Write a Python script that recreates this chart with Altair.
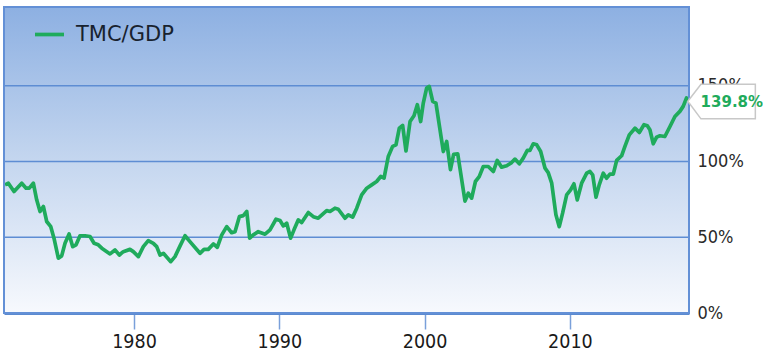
import altair as alt
import pandas as pd

years = [1971.12, 1971.35, 1971.74, 1972.27, 1972.57, 1972.79, 1973.07, 1973.30, 1973.53, 1973.76,
         1973.99, 1974.27, 1974.49, 1974.79, 1975.02, 1975.25, 1975.53, 1975.78, 1976.01, 1976.28,
         1976.63, 1976.97, 1977.25, 1977.54, 1977.78, 1978.35, 1978.69, 1978.99, 1979.26, 1979.72,
         1979.95, 1980.30, 1980.64, 1980.98, 1981.33, 1981.56, 1981.79, 1982.02, 1982.53, 1982.82,
         1983.17, 1983.51, 1983.85, 1984.54, 1984.82, 1985.11, 1985.46, 1985.73, 1986.04, 1986.38,
         1986.72, 1986.95, 1987.25, 1987.52, 1987.76, 1987.96, 1988.21, 1988.55, 1989.02, 1989.36,
         1989.77, 1990.05, 1990.28, 1990.51, 1990.78, 1991.01, 1991.31, 1991.54, 1992.00, 1992.34,
         1992.68, 1993.26, 1993.49, 1993.83, 1994.06, 1994.52, 1994.75, 1995.05, 1995.33, 1995.67,
         1996.02, 1996.36, 1996.70, 1996.98, 1997.21, 1997.50, 1997.80, 1998.03, 1998.26, 1998.49,
         1998.72, 1999.00, 1999.27, 1999.50, 1999.73, 1999.91, 2000.14, 2000.32, 2000.56, 2000.78,
         2001.29, 2001.52, 2001.78, 2002.00, 2002.28, 2002.78, 2003.01, 2003.24, 2003.50, 2003.76,
         2004.04, 2004.38, 2004.73, 2005.00, 2005.30, 2005.65, 2005.99, 2006.22, 2006.52, 2006.79,
         2007.07, 2007.25, 2007.48, 2007.72, 2007.99, 2008.29, 2008.51, 2008.75, 2009.04, 2009.27,
         2009.50, 2009.78, 2010.05, 2010.28, 2010.51, 2010.81, 2011.16, 2011.38, 2011.57, 2011.80,
         2012.02, 2012.30, 2012.53, 2012.76, 2012.99, 2013.22, 2013.56, 2013.79, 2014.09, 2014.48,
         2014.78, 2015.10, 2015.33, 2015.51, 2015.74, 2015.97, 2016.20, 2016.54, 2016.89, 2017.23,
         2017.57, 2017.80, 2018.03, 2018.12]

tmc_gdp = [84.6, 85.7, 80.2, 85.7, 82.4, 82.4, 85.7, 74.7, 67.0, 70.3,
           60.4, 57.0, 49.4, 36.2, 37.7, 46.0, 52.2, 43.8, 45.0, 51.0,
           51.0, 50.5, 46.0, 45.0, 42.8, 39.0, 41.6, 38.3, 40.5, 42.0,
           40.5, 37.2, 43.8, 47.8, 46.0, 43.8, 38.3, 39.4, 33.9, 37.2,
           44.3, 51.0, 47.1, 39.4, 42.0, 42.0, 45.6, 43.4, 51.6, 57.0,
           53.0, 53.7, 63.6, 64.3, 67.0, 49.4, 51.6, 53.7, 52.0, 54.9,
           61.9, 61.0, 57.5, 59.3, 49.4, 54.9, 61.5, 59.7, 66.3, 63.6,
           62.6, 67.6, 67.0, 69.2, 68.5, 62.6, 64.8, 63.3, 69.2, 78.0,
           82.4, 84.6, 86.8, 90.1, 89.0, 103.3, 110.0, 111.0, 122.0, 123.8,
           107.0, 126.4, 130.2, 137.5, 126.4, 138.6, 148.5, 149.6, 139.7, 138.6,
           106.6, 113.2, 94.7, 104.7, 105.1, 73.9, 79.1, 75.8, 86.8, 90.0,
           96.7, 96.7, 93.4, 100.7, 96.3, 97.2, 99.3, 101.6, 98.5, 102.2,
           107.3, 107.3, 111.7, 111.0, 106.6, 95.6, 92.7, 85.7, 64.8, 57.0,
           65.9, 78.0, 81.3, 85.3, 74.7, 85.7, 92.3, 93.4, 91.2, 76.5,
           84.6, 92.3, 89.0, 91.7, 91.7, 100.7, 103.8, 110.0, 117.6, 122.0,
           119.2, 124.3, 123.6, 121.0, 111.7, 116.1, 117.0, 116.5, 123.1, 129.7,
           133.1, 136.4, 142.0, 139.8]

series_name = "TMC/GDP"
x_ticks = [1980, 1990, 2000, 2010]
y_ticks = [0, 50, 100, 150]
grid_values = [50, 100, 150]
x_domain = [1971.05, 2018.2]
y_domain = [0, 202]

GREEN = "#1fab5c"
BLUE = "#6390d6"
GRID = "#5e8dd3"

df = pd.DataFrame({"year": years, "value": tmc_gdp, "series": series_name})
last = df.tail(1).assign(label=lambda d: d["value"].map(lambda v: f"{v:.1f}%"))

xs = alt.Scale(domain=x_domain, nice=False, zero=False)
ys = alt.Scale(domain=y_domain, nice=False, zero=False)

one = pd.DataFrame({"a": [0]})

bg = alt.Chart(one).mark_rect(
    fill=alt.Gradient(
        gradient="linear", x1=0, x2=0, y1=0, y2=1,
        stops=[alt.GradientStop(offset=0, color="#8db0e2"),
               alt.GradientStop(offset=0.5, color="#c4d6ef"),
               alt.GradientStop(offset=1, color="#f7f9fd")],
    )
).encode(x=alt.value(0), x2=alt.value("width"), y=alt.value(0), y2=alt.value("height"))

grid = alt.Chart(pd.DataFrame({"g": grid_values})).mark_rule(
    color=GRID, strokeWidth=1.5
).encode(y=alt.Y("g:Q", scale=ys), x=alt.value(0), x2=alt.value("width"))

line = alt.Chart(df).mark_line(strokeWidth=3.7, strokeJoin="round").encode(
    x=alt.X("year:Q", scale=xs,
            axis=alt.Axis(values=x_ticks, format="d", title=None, grid=False,
                          domainColor="#5b8ad0", domainWidth=3,
                          tickColor="#7aa0da", tickWidth=1.5, tickSize=16,
                          labelFont="DejaVu Sans Condensed", labelFontSize=19.5,
                          labelColor="#1a1a1a", labelPadding=3)),
    y=alt.Y("value:Q", scale=ys,
            axis=alt.Axis(orient="right", values=y_ticks, title=None,
                          labelExpr="datum.value + '%'", domain=False, ticks=False,
                          grid=False,
                          labelFont="DejaVu Sans Condensed", labelFontSize=18,
                          labelColor="#2a2a2a", labelPadding=8)),
    color=alt.Color("series:N",
                    scale=alt.Scale(domain=[series_name], range=[GREEN]),
                    legend=alt.Legend(orient="none", legendX=29, legendY=11, title=None,
                                      symbolType="stroke", symbolSize=841,
                                      symbolStrokeWidth=3.7, labelOffset=10, padding=0,
                                      labelFont="DejaVu Sans", labelFontSize=21,
                                      labelColor="#18222e")),
)

border = alt.Chart(one).mark_rect(
    fill="transparent", stroke=BLUE, strokeWidth=2
).encode(x=alt.value(0), x2=alt.value("width"), y=alt.value(0), y2=alt.value("height"))

callout = alt.Chart(last).mark_point(
    shape="M0,0 L0.35,-0.45 L1.8,-0.45 L1.8,0.47 L0.35,0.47 Z",
    size=5625, filled=True, fill="white", stroke="#c8c8c8", strokeWidth=1.5, opacity=1,
).encode(x=alt.X("year:Q", scale=xs), y=alt.Y("value:Q", scale=ys))

label = alt.Chart(last).mark_text(
    align="center", baseline="middle", dx=44, dy=1, font="DejaVu Sans",
    fontSize=15, fontWeight="bold", color=GREEN,
).encode(x=alt.X("year:Q", scale=xs), y=alt.Y("value:Q", scale=ys), text="label:N")

chart = alt.layer(bg, grid, line, border, callout, label).properties(
    width=685, height=306,
    autosize=alt.AutoSizeParams(type="none"),
    padding={"left": 4, "top": 7, "right": 74, "bottom": 42},
).configure_view(stroke=None).configure(background="white")

chart.save("out.html", embed_options={"renderer": "svg", "actions": False})
